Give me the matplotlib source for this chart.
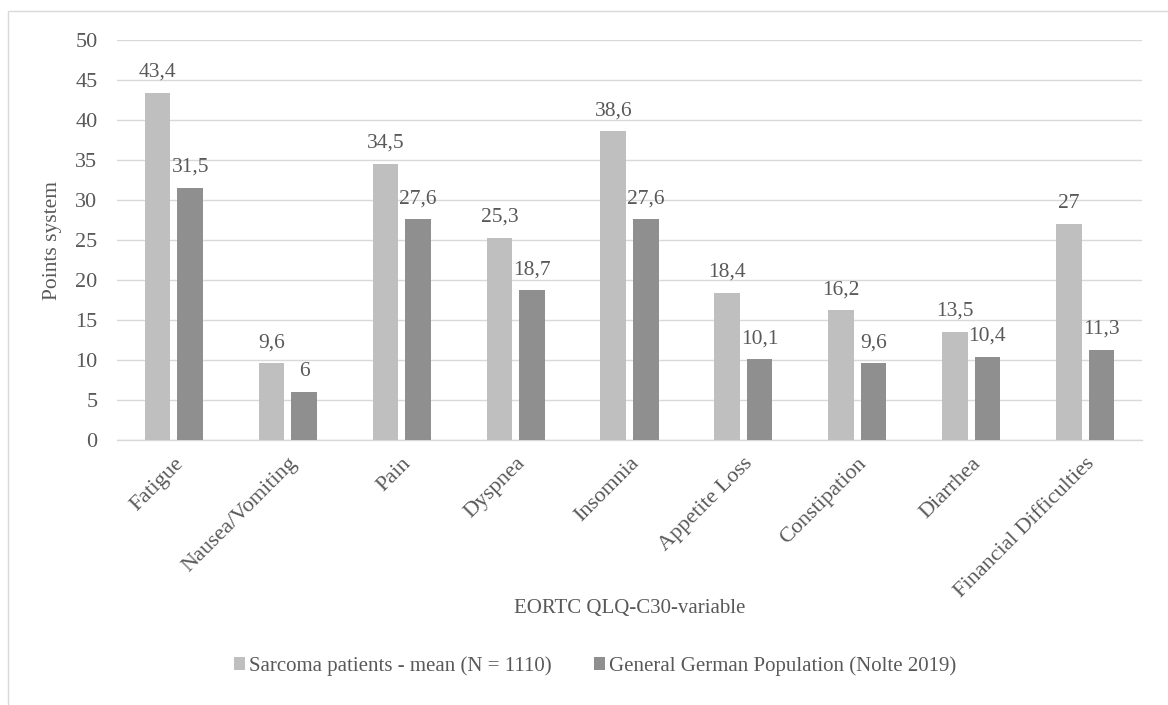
import matplotlib
matplotlib.use("Agg")
import matplotlib.pyplot as plt
import numpy as np
from matplotlib.patches import Rectangle

categories = ["Fatigue", "Nausea/Vomiting", "Pain", "Dyspnea", "Insomnia",
              "Appetite Loss", "Constipation", "Diarrhea", "Financial Difficulties"]
sarcoma = [43.4, 9.6, 34.5, 25.3, 38.6, 18.4, 16.2, 13.5, 27.0]
german = [31.5, 6.0, 27.6, 18.7, 27.6, 10.1, 9.6, 10.4, 11.3]
sarcoma_labels = ["43,4", "9,6", "34,5", "25,3", "38,6", "18,4", "16,2", "13,5", "27"]
german_labels = ["31,5", "6", "27,6", "18,7", "27,6", "10,1", "9,6", "10,4", "11,3"]
series_names = ["Sarcoma patients - mean (N = 1110)", "General German Population (Nolte 2019)"]

plt.rcParams['font.family'] = ['Liberation Serif', 'DejaVu Serif']
txt = '#595959'
fs = 15.5
W, H = 1168, 705
fig = plt.figure(figsize=(W/100, H/100), dpi=100)

# chart border
fig.patches.append(Rectangle((8/W, -0.05), 1.1, 1.05 - 11/H, transform=fig.transFigure,
                             fill=False, edgecolor='#D9D9D9', linewidth=1.0))

ax = fig.add_axes([117/W, 1 - 440/H, (1142-117)/W, 400/H])
x = np.arange(len(categories))
bw = 0.224
off = 0.143
c1, c2 = '#BFBFBF', '#8F8F8F'
b1 = ax.bar(x - off, sarcoma, bw, color=c1, label=series_names[0], zorder=3)
b2 = ax.bar(x + off, german, bw, color=c2, label=series_names[1], zorder=3)
for bars, labs in ((b1, sarcoma_labels), (b2, german_labels)):
    for rect, lab in zip(bars, labs):
        ax.annotate(lab, (rect.get_x() + rect.get_width()/2, rect.get_height()),
                    xytext=(0, 11.5), textcoords='offset points', ha='center',
                    va='baseline', fontsize=fs, color=txt)

ax.set_xlim(-0.5, len(categories) - 0.5)
ax.set_ylim(0, 50)
ax.set_yticks(np.arange(0, 51, 5))
ax.yaxis.grid(True, color='#D9D9D9', linewidth=1.0, zorder=0)
ax.set_axisbelow(True)
for s in ['top', 'right', 'left']:
    ax.spines[s].set_visible(False)
ax.spines['bottom'].set_color('#D9D9D9')
ax.spines['bottom'].set_linewidth(1.0)
ax.tick_params(axis='both', length=0, colors=txt, labelsize=fs + 0.5)
ax.tick_params(axis='y', pad=14)
ax.set_xticks(x)
ax.set_xticklabels(categories, rotation=45, ha='right', rotation_mode='anchor')
ax.tick_params(axis='x', pad=10)

fig.text(53/W, 1 - 240/H, "Points system", rotation=90, ha='center', va='center',
         fontsize=fs, color=txt)
fig.text(630/W, 1 - 609/H, "EORTC QLQ-C30-variable", ha='center', va='center',
         fontsize=15, color=txt)

leg = fig.legend(handles=[b1, b2], labels=series_names, loc='center',
                 bbox_to_anchor=(595/W, 1 - 666/H), ncol=2, frameon=False,
                 fontsize=15, handlelength=0.55, handleheight=0.55,
                 handletextpad=0.2, columnspacing=2.0)
for t in leg.get_texts():
    t.set_color(txt)

fig.savefig("out.png", dpi=100)
